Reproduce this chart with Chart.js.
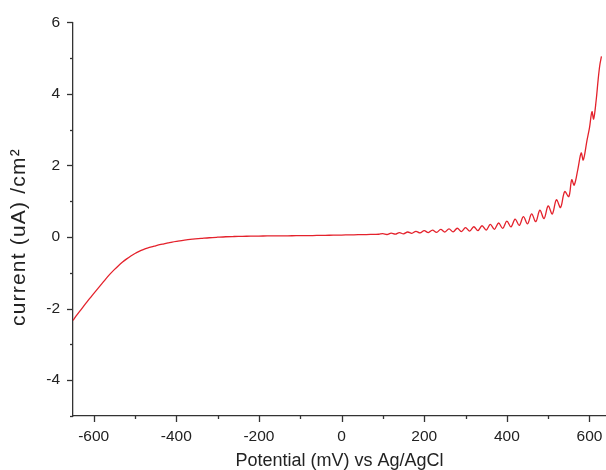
<!DOCTYPE html>
<html>
<head>
<meta charset="utf-8">
<script src="https://cdn.jsdelivr.net/npm/chart.js@4.4.1/dist/chart.umd.min.js"></script>
<style>
  body { margin: 0; background: #fff; }
  canvas { display: block; }
</style>
</head>
<body>
<canvas id="polarChart" width="606" height="470"></canvas>
<script>
// Potential (mV vs Ag/AgCl) and current density (uA/cm2)
const potential = [
  -650, -640, -630, -620, -610, -600, -590, -580, -570, -560,
  -550, -540, -530, -520, -510, -500, -490, -480, -470, -460,
  -450, -440, -430, -420, -410, -400, -380, -360, -340, -320,
  -300, -280, -260, -240, -220, -200, -180, -160, -140, -120,
  -100, -80, -60, -40, -20, 0, 20, 40, 60, 80, 90,
  100, 110, 120, 130, 140, 150, 160, 170, 180, 190,
  200, 210, 220, 230, 240, 250, 260, 270, 280, 290,
  300, 310, 320, 330, 340, 350, 360, 370, 380, 390,
  400, 410, 420, 430, 440, 450, 460, 470, 480, 490,
  500, 510, 520, 530, 540, 550, 557, 563, 572, 580,
  585, 594, 600, 606, 610, 616, 621, 625, 629
];
const current = [
  -2.33, -2.17, -2.02, -1.87, -1.72, -1.58, -1.44, -1.30, -1.16, -1.03,
  -0.91, -0.80, -0.70, -0.61, -0.53, -0.46, -0.40, -0.35, -0.31, -0.275,
  -0.245, -0.215, -0.19, -0.165, -0.14, -0.12, -0.085, -0.06, -0.04, -0.02,
  -0.005, 0.008, 0.015, 0.02, 0.024, 0.028, 0.03, 0.032, 0.034, 0.036,
  0.038, 0.041, 0.044, 0.048, 0.052, 0.056, 0.06, 0.065, 0.07, 0.075, 0.078,
  0.095, 0.071, 0.110, 0.080, 0.124, 0.090, 0.141, 0.103, 0.160, 0.116,
  0.180, 0.124, 0.196, 0.132, 0.212, 0.140, 0.228, 0.147, 0.246, 0.154,
  0.262, 0.165, 0.288, 0.178, 0.316, 0.195, 0.354, 0.217, 0.392, 0.244,
  0.445, 0.283, 0.50, 0.325, 0.57, 0.37, 0.645, 0.43, 0.75, 0.515,
  0.87, 0.645, 1.04, 0.825, 1.27, 1.13, 1.6, 1.45, 1.9, 2.35,
  2.15, 2.7, 3.05, 3.5, 3.3, 3.8, 4.4, 4.8, 5.05
];

// Tick labels and minor tick positions
const xTickLabels = [-600, -400, -200, 0, 200, 400, 600];
const xMinorTicks = [-500, -300, -100, 100, 300, 500];
const yTickLabels = [-4, -2, 0, 2, 4, 6];
const yMinorTicks = [-5, -3, -1, 1, 3, 5];
const yTitle = 'current (uA) /cm²';

const axisColor = '#333';
const textColor = '#222';
const fontFamily = '"Liberation Sans", Arial, sans-serif';

// draws outward tick marks (long for labelled, short for minor) and the y title
const axisExtras = {
  id: 'axisExtras',
  afterDraw(chart) {
    const ctx = chart.ctx;
    const xs = chart.scales.x;
    const ys = chart.scales.y;
    const area = chart.chartArea;
    ctx.save();
    ctx.strokeStyle = axisColor;
    ctx.lineWidth = 1.3;
    const xTick = (v, len) => {
      const px = Math.round(xs.getPixelForValue(v)) + 0.5;
      ctx.beginPath();
      ctx.moveTo(px, area.bottom);
      ctx.lineTo(px, area.bottom + len);
      ctx.stroke();
    };
    const yTick = (v, len) => {
      const py = Math.round(ys.getPixelForValue(v)) + 0.5;
      ctx.beginPath();
      ctx.moveTo(area.left, py);
      ctx.lineTo(area.left - len, py);
      ctx.stroke();
    };
    xTickLabels.forEach(v => xTick(v, 6));
    xMinorTicks.forEach(v => xTick(v, 3));
    yTickLabels.forEach(v => yTick(v, 6));
    yMinorTicks.forEach(v => yTick(v, 3));
    ctx.restore();

    // y title, centred on the zero line like the original
    ctx.save();
    ctx.translate(19, ys.getPixelForValue(0));
    ctx.rotate(-Math.PI / 2);
    ctx.font = '21px ' + fontFamily;
    ctx.fillStyle = textColor;
    ctx.textAlign = 'center';
    ctx.textBaseline = 'middle';
    if ('letterSpacing' in ctx) ctx.letterSpacing = '1.2px';
    ctx.fillText(yTitle, 0, 0);
    ctx.restore();
  }
};

const ctx = document.getElementById('polarChart').getContext('2d');
const polarChart = new Chart(ctx, {
  type: 'line',
  data: {
    datasets: [{
      data: potential.map((p, i) => ({ x: p, y: current[i] })),
      borderColor: '#e4222c',
      borderWidth: 1.3,
      pointRadius: 0,
      tension: 0.35,
      fill: false
    }]
  },
  options: {
    responsive: false,
    animation: false,
    layout: { padding: { top: 21, right: 0, bottom: 0, left: 0 } },
    plugins: {
      legend: { display: false },
      tooltip: { enabled: false }
    },
    scales: {
      x: {
        type: 'linear',
        min: -650,
        max: 640,
        afterBuildTicks: s => { s.ticks = xTickLabels.map(v => ({ value: v })); },
        afterFit: s => { s.height = 54; s.paddingRight = 0; s.paddingLeft = 0; },
        grid: { display: true, drawOnChartArea: false, drawTicks: false },
        border: { display: true, color: axisColor, width: 1.3 },
        ticks: {
          padding: 11,
          color: textColor,
          maxRotation: 0,
          font: { family: fontFamily, size: 15.5 }
        },
        title: {
          display: true,
          text: 'Potential (mV) vs Ag/AgCl',
          color: textColor,
          padding: { top: 0, bottom: 0 },
          font: { family: fontFamily, size: 18, lineHeight: 1 }
        }
      },
      y: {
        min: -5,
        max: 6,
        afterBuildTicks: s => { s.ticks = yTickLabels.map(v => ({ value: v })); },
        afterFit: s => { s.width = 73; },
        grid: { display: true, drawOnChartArea: false, drawTicks: false },
        border: { display: true, color: axisColor, width: 1.3 },
        ticks: {
          padding: 13,
          color: textColor,
          font: { family: fontFamily, size: 15.5 }
        },
        title: { display: false, text: yTitle }
      }
    }
  },
  plugins: [axisExtras]
});
</script>
</body>
</html>
